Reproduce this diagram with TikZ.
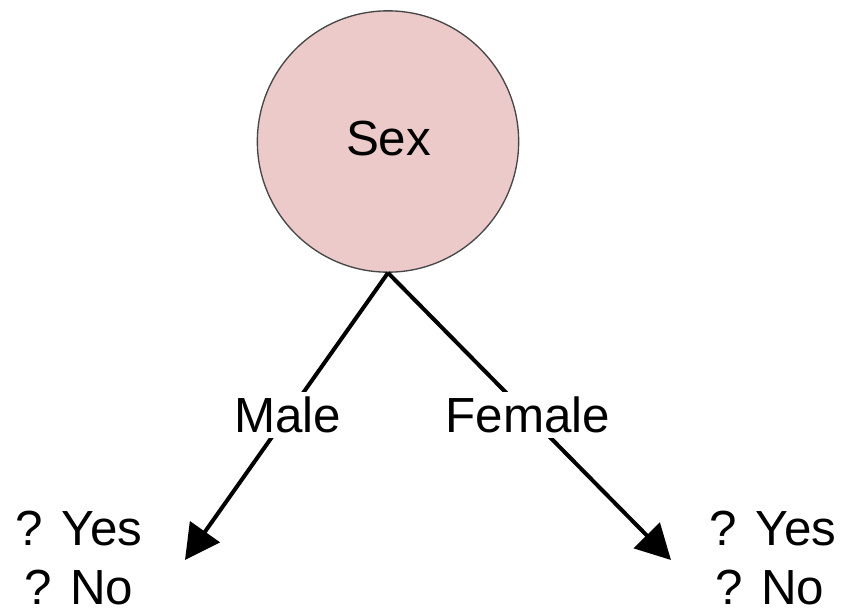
\documentclass[tikz,border=0pt]{standalone}
\usepackage{fontspec}
\setmainfont{Liberation Sans}
\usetikzlibrary{arrows.meta}
\definecolor{nodepink}{RGB}{236,202,202}
\definecolor{rimgray}{RGB}{70,70,70}
\begin{document}
\begin{tikzpicture}[x=0.75pt,y=-0.75pt,
  bigtext/.style={font=\fontsize{37}{44}\selectfont},
  attr/.style={circle,draw=rimgray,line width=1pt,fill=nodepink,minimum size=196pt,inner sep=0pt,bigtext},
  edgelbl/.style={fill=white,inner sep=4pt,bigtext},
  branch/.style={line width=3pt,-{Triangle[length=26pt,width=27pt]}},
  answer/.style={anchor=base,inner sep=0pt,bigtext}]
  \useasboundingbox (0,0) rectangle (845,611);
  % root attribute
  \node[attr] (sex) at (388,141.5) {};
  \node[bigtext,anchor=base] (sexlbl) at (388.5,155) {Sex};
  % branch end points
  \coordinate (lend) at (185,560);
  \coordinate (rend) at (671,560);
  % branches with their value labels
  \draw[branch] (sex.south) -- node[edgelbl,pos=0.495] (male) {Male} (lend);
  \draw[branch] (sex.south) -- node[edgelbl,pos=0.495] (female) {Female} (rend);
  % unknown outcomes
  \node[answer] (yesl) at (79,545) {? Yes};
  \node[answer] (nol) at (79,604) {? No};
  \node[answer] (yesr) at (773,545) {? Yes};
  \node[answer] (nor) at (770,604) {? No};
\end{tikzpicture}
\end{document}
